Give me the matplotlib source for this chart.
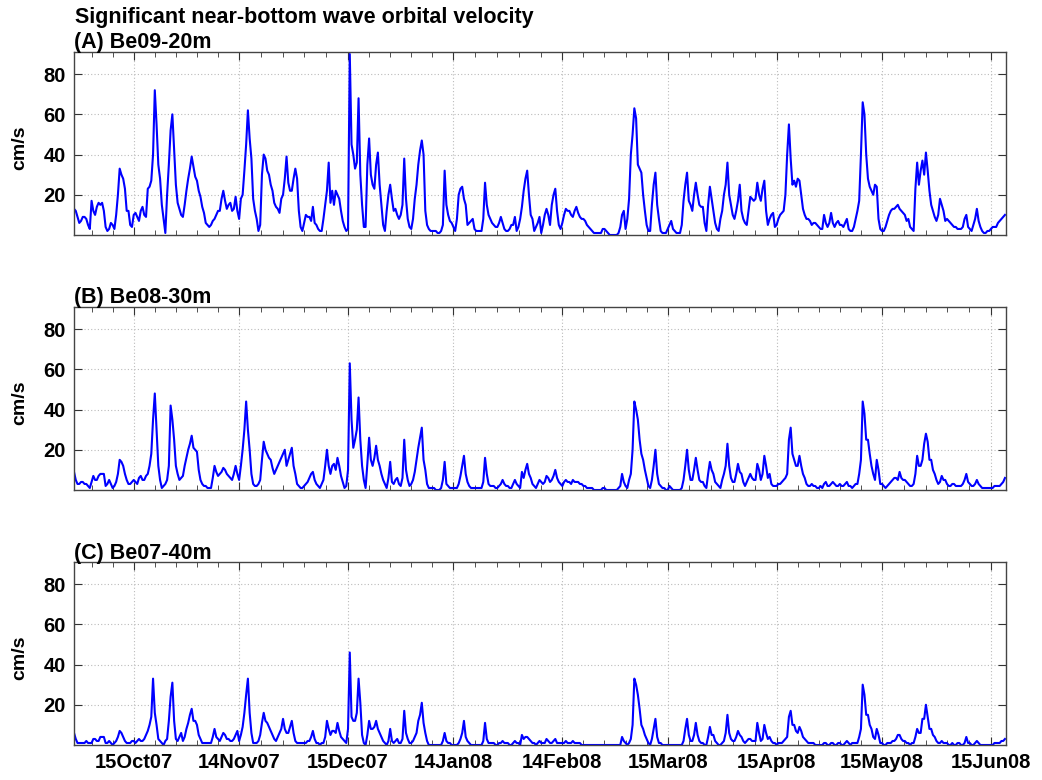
import numpy as np
import pandas as pd
import matplotlib
matplotlib.use("Agg")
import matplotlib.pyplot as plt
import matplotlib.dates as mdates

plt.rcParams['font.family'] = ['Liberation Sans', 'DejaVu Sans']
plt.rcParams['font.weight'] = 'bold'

# significant near-bottom orbital velocity (cm/s), every 12 h from 28 Sep 2007
start = "2007-09-28"
end = "2008-06-19 07:00"

ub_a = [13, 12, 9, 6, 7, 9, 9, 8, 5, 3,
        17, 12, 10, 14, 16, 15, 16, 12, 4, 2,
        3, 6, 5, 3, 10, 20, 33, 30, 28, 23,
        12, 12, 5, 4, 10, 11, 9, 7, 12, 14,
        10, 9, 23, 24, 27, 40, 72, 55, 35, 28,
        15, 8, 1, 20, 35, 52, 60, 42, 25, 16,
        13, 10, 9, 15, 22, 28, 33, 39, 34, 29,
        27, 22, 19, 14, 11, 6, 5, 4, 5, 7,
        8, 10, 12, 12, 18, 22, 17, 13, 15, 16,
        12, 13, 19, 12, 8, 18, 20, 32, 45, 62,
        48, 38, 18, 12, 8, 2, 5, 30, 40, 38,
        32, 30, 25, 22, 16, 14, 13, 11, 18, 20,
        28, 39, 26, 22, 22, 28, 33, 28, 12, 4,
        2, 6, 10, 9, 9, 7, 14, 6, 5, 3,
        2, 2, 8, 15, 22, 36, 16, 22, 15, 22,
        20, 18, 12, 7, 4, 2, 3, 90, 45, 40,
        33, 36, 68, 30, 15, 4, 4, 35, 48, 30,
        25, 23, 35, 41, 25, 15, 5, 2, 12, 20,
        25, 18, 12, 13, 10, 8, 10, 15, 38, 18,
        8, 4, 3, 8, 18, 25, 35, 42, 47, 40,
        12, 5, 3, 2, 2, 2, 2, 1, 1, 2,
        5, 32, 15, 10, 7, 6, 4, 2, 8, 20,
        23, 24, 18, 15, 5, 6, 7, 8, 3, 2,
        2, 2, 2, 8, 26, 15, 10, 8, 6, 5,
        4, 4, 6, 9, 6, 3, 2, 2, 3, 5,
        5, 9, 2, 4, 8, 14, 22, 28, 32, 20,
        10, 8, 2, 4, 6, 9, 1, 5, 10, 13,
        10, 5, 15, 20, 23, 12, 5, 3, 6, 10,
        13, 12, 12, 10, 9, 12, 14, 11, 9, 8,
        8, 7, 5, 4, 3, 2, 1, 1, 1, 1,
        1, 3, 3, 2, 1, 0, 0, 0, 0, 0,
        1, 4, 10, 12, 3, 8, 18, 40, 50, 63,
        58, 35, 33, 31, 20, 12, 5, 2, 2, 15,
        25, 31, 15, 8, 2, 1, 1, 1, 3, 5,
        7, 3, 2, 1, 1, 1, 5, 17, 25, 31,
        17, 15, 12, 20, 26, 20, 15, 14, 14, 6,
        2, 15, 24, 18, 12, 6, 3, 2, 8, 12,
        20, 25, 36, 20, 15, 10, 8, 12, 17, 25,
        12, 8, 6, 5, 12, 19, 18, 17, 18, 26,
        20, 17, 23, 27, 12, 5, 8, 10, 11, 4,
        5, 8, 10, 11, 12, 20, 40, 55, 38, 25,
        27, 24, 28, 27, 20, 13, 10, 8, 8, 7,
        5, 6, 6, 5, 4, 3, 3, 10, 6, 4,
        6, 11, 6, 4, 6, 7, 5, 5, 4, 6,
        8, 3, 2, 2, 4, 8, 12, 17, 40, 66,
        60, 40, 28, 24, 22, 20, 25, 24, 8, 3,
        2, 2, 4, 7, 10, 12, 13, 13, 14, 15,
        13, 12, 11, 10, 7, 8, 4, 3, 2, 23,
        36, 25, 32, 37, 30, 41, 32, 22, 15, 12,
        9, 7, 10, 18, 15, 12, 7, 8, 7, 6,
        5, 4, 4, 3, 3, 3, 4, 8, 10, 4,
        3, 2, 5, 8, 13, 7, 4, 2, 1, 1,
        2, 2, 3, 4, 4, 4, 6, 7, 8, 9,
        10]

ub_b = [9, 5, 3, 3, 4, 4, 3, 3, 2, 1,
        4, 7, 5, 5, 7, 8, 8, 8, 2, 3,
        5, 3, 1, 2, 4, 8, 15, 14, 12, 8,
        5, 3, 3, 4, 5, 4, 3, 6, 7, 5,
        5, 7, 8, 12, 18, 35, 48, 30, 12, 5,
        1, 2, 3, 5, 12, 42, 35, 25, 12, 8,
        5, 6, 7, 12, 16, 20, 23, 27, 21, 20,
        19, 10, 5, 3, 2, 2, 1, 1, 1, 6,
        12, 9, 7, 8, 9, 11, 10, 8, 7, 6,
        5, 8, 12, 8, 5, 12, 20, 30, 44, 30,
        20, 8, 3, 2, 2, 3, 5, 15, 24, 20,
        18, 16, 15, 11, 8, 10, 12, 14, 16, 18,
        20, 12, 15, 18, 21, 12, 8, 3, 2, 1,
        1, 2, 3, 4, 6, 8, 9, 5, 3, 2,
        1, 3, 5, 12, 20, 12, 8, 12, 13, 10,
        16, 12, 7, 4, 1, 2, 10, 63, 35, 21,
        25, 30, 46, 25, 12, 5, 1, 13, 26, 15,
        12, 16, 22, 15, 12, 8, 5, 3, 1, 6,
        14, 4, 3, 5, 6, 3, 2, 6, 25, 10,
        5, 2, 3, 5, 9, 15, 21, 26, 31, 15,
        10, 3, 1, 1, 1, 1, 0, 0, 0, 1,
        5, 14, 3, 2, 1, 1, 1, 1, 1, 3,
        7, 12, 17, 8, 4, 2, 1, 1, 1, 1,
        1, 1, 1, 4, 16, 8, 3, 2, 2, 2,
        1, 1, 2, 3, 5, 3, 2, 2, 1, 1,
        3, 5, 3, 2, 1, 9, 6, 10, 13, 8,
        6, 3, 2, 1, 3, 5, 4, 3, 4, 7,
        6, 4, 5, 7, 10, 6, 4, 3, 2, 4,
        5, 4, 4, 3, 5, 4, 4, 4, 3, 3,
        2, 2, 1, 1, 1, 1, 0, 0, 0, 0,
        0, 1, 1, 0, 0, 0, 0, 0, 0, 0,
        1, 2, 8, 4, 2, 1, 5, 8, 20, 44,
        40, 35, 25, 18, 15, 10, 6, 2, 1, 5,
        12, 20, 8, 3, 2, 1, 1, 0, 0, 2,
        1, 0, 0, 0, 0, 0, 1, 5, 12, 20,
        10, 5, 5, 10, 16, 10, 5, 4, 4, 2,
        1, 8, 14, 10, 8, 4, 3, 2, 1, 5,
        8, 12, 23, 12, 6, 4, 4, 8, 13, 9,
        8, 4, 2, 4, 6, 8, 6, 5, 5, 13,
        10, 5, 8, 17, 12, 6, 8, 3, 2, 2,
        2, 3, 3, 4, 5, 6, 8, 25, 31, 18,
        15, 12, 12, 17, 12, 8, 6, 3, 2, 2,
        3, 2, 2, 1, 1, 2, 1, 3, 4, 2,
        2, 3, 4, 3, 2, 2, 3, 2, 2, 3,
        4, 2, 2, 1, 2, 3, 3, 8, 15, 44,
        38, 25, 25, 18, 12, 8, 5, 15, 10, 3,
        3, 2, 1, 2, 3, 4, 5, 6, 6, 5,
        9, 6, 5, 5, 4, 3, 2, 2, 3, 8,
        17, 12, 12, 15, 23, 28, 24, 15, 15, 10,
        8, 5, 3, 4, 7, 5, 5, 3, 2, 2,
        3, 3, 2, 2, 2, 2, 3, 5, 8, 4,
        3, 2, 2, 3, 5, 3, 2, 1, 1, 1,
        1, 1, 1, 1, 2, 2, 2, 2, 3, 4,
        6]

ub_c = [6, 3, 1, 1, 1, 1, 1, 2, 1, 1,
        1, 3, 3, 2, 2, 4, 4, 4, 1, 1,
        2, 1, 0, 1, 2, 4, 7, 6, 4, 2,
        1, 1, 1, 2, 2, 1, 2, 3, 2, 2,
        3, 5, 7, 10, 14, 33, 16, 10, 3, 2,
        1, 0, 2, 3, 12, 24, 31, 12, 3, 2,
        4, 6, 2, 4, 8, 11, 15, 18, 12, 12,
        10, 5, 3, 1, 1, 1, 1, 1, 1, 4,
        8, 4, 3, 2, 4, 6, 5, 3, 3, 2,
        2, 3, 5, 7, 2, 5, 9, 16, 25, 33,
        16, 6, 1, 1, 1, 2, 5, 11, 16, 12,
        11, 9, 7, 5, 3, 2, 4, 6, 8, 13,
        8, 6, 6, 9, 12, 6, 2, 1, 1, 1,
        1, 1, 1, 2, 2, 4, 7, 3, 1, 1,
        0, 1, 1, 4, 12, 8, 5, 7, 7, 6,
        11, 7, 4, 3, 2, 1, 8, 46, 14, 12,
        12, 16, 33, 21, 5, 1, 0, 5, 12, 8,
        8, 9, 12, 8, 6, 4, 2, 1, 0, 2,
        8, 2, 1, 2, 3, 1, 1, 3, 17, 6,
        3, 1, 1, 2, 4, 6, 12, 15, 21, 11,
        6, 2, 0, 0, 0, 0, 0, 0, 0, 0,
        2, 6, 2, 1, 1, 0, 0, 0, 0, 1,
        3, 6, 12, 4, 2, 1, 0, 0, 0, 0,
        0, 0, 0, 2, 11, 3, 1, 1, 1, 1,
        0, 0, 1, 1, 2, 1, 1, 1, 0, 0,
        1, 2, 1, 1, 0, 5, 3, 4, 4, 3,
        2, 1, 1, 0, 1, 2, 1, 1, 1, 3,
        2, 1, 1, 2, 3, 1, 1, 1, 1, 1,
        2, 1, 1, 1, 2, 1, 1, 1, 1, 0,
        0, 0, 0, 0, 0, 0, 0, 0, 0, 0,
        0, 0, 0, 0, 0, 0, 0, 0, 0, 0,
        0, 0, 4, 2, 1, 0, 1, 3, 10, 33,
        30, 25, 18, 10, 8, 5, 3, 1, 0, 3,
        8, 13, 4, 1, 1, 0, 0, 0, 0, 0,
        0, 0, 0, 0, 0, 0, 0, 2, 8, 13,
        5, 2, 2, 5, 11, 5, 2, 1, 1, 0,
        0, 4, 9, 5, 5, 2, 1, 0, 0, 1,
        2, 6, 15, 6, 3, 2, 2, 4, 7, 5,
        4, 2, 1, 2, 3, 3, 2, 2, 2, 11,
        6, 2, 3, 10, 6, 3, 4, 2, 1, 1,
        0, 1, 1, 1, 2, 3, 4, 14, 17, 10,
        10, 7, 6, 9, 7, 4, 3, 2, 1, 1,
        1, 1, 0, 0, 0, 0, 0, 1, 1, 0,
        0, 1, 1, 0, 0, 1, 1, 0, 0, 1,
        2, 1, 0, 1, 1, 1, 1, 4, 8, 30,
        25, 15, 15, 10, 8, 4, 3, 8, 5, 1,
        1, 0, 0, 1, 1, 1, 2, 2, 3, 5,
        5, 3, 2, 2, 1, 1, 0, 1, 1, 4,
        8, 6, 6, 13, 13, 20, 14, 8, 8, 5,
        4, 2, 1, 1, 2, 1, 1, 1, 0, 0,
        1, 0, 0, 1, 1, 0, 0, 1, 4, 1,
        1, 0, 0, 1, 2, 1, 0, 0, 0, 0,
        0, 0, 0, 0, 1, 1, 1, 1, 2, 2,
        3]

panel_names = ["(A) Be09-20m", "(B) Be08-30m", "(C) Be07-40m"]
tick_dates = ["2007-10-15", "2007-11-14", "2007-12-15", "2008-01-14",
              "2008-02-14", "2008-03-15", "2008-04-15", "2008-05-15",
              "2008-06-15"]
yticks = [20, 40, 60, 80]

major = mdates.date2num(pd.to_datetime(tick_dates))
# five sub-intervals between labelled dates, plus two before the first one
minor = []
step0 = (major[1] - major[0]) / 5
minor += [major[0] - 2 * step0, major[0] - step0]
for a, b in zip(major[:-1], major[1:]):
    minor += list(np.linspace(a, b, 6)[1:-1])
x0 = mdates.date2num(pd.Timestamp(start))
x1 = mdates.date2num(pd.Timestamp(end))

W, H = 1042, 780
fig = plt.figure(figsize=(W / 100, H / 100), dpi=100)
fig.text(75 / W, 1 - 23 / H, "Significant near-bottom wave orbital velocity",
         fontsize=15.5, fontweight="bold", ha="left", va="baseline")

tops = [52, 307, 562]
base = [48, 303, 559]
for i, (vals, name) in enumerate(zip([ub_a, ub_b, ub_c], panel_names)):
    t = pd.date_range(start, periods=len(vals), freq="12h")
    ax = fig.add_axes([74 / W, 1 - (tops[i] + 183) / H, 932 / W, 183 / H])
    ax.plot(t, vals, color="#0000ff", lw=1.5)
    ax.set_xlim(x0, x1)
    ax.set_ylim(0, 91)
    ax.set_yticks(yticks)
    ax.set_xticks(major)
    ax.set_xticks(minor, minor=True)
    ax.xaxis.set_major_formatter(mdates.DateFormatter("%d%b%y"))
    ax.grid(True, which="major", linestyle=(0, (1, 2)), color="#bbbbbb", lw=0.8)
    ax.tick_params(which="both", direction="in", top=True, right=True,
                   colors="#333333", labelcolor="black", labelsize=14.5,
                   pad=6)
    ax.tick_params(which="major", length=6)
    ax.tick_params(which="minor", length=3.5)
    for s in ax.spines.values():
        s.set_color("#444444")
        s.set_linewidth(1.0)
    if i < 2:
        ax.tick_params(labelbottom=False)
    fig.text(74 / W, 1 - base[i] / H, name, fontsize=15.5, fontweight="bold",
             ha="left", va="baseline")
    fig.text(20 / W, 1 - (tops[i] + 96) / H, "cm/s", fontsize=14,
             fontweight="bold", rotation=90, ha="center", va="center")

fig.savefig("out.png", dpi=100)
